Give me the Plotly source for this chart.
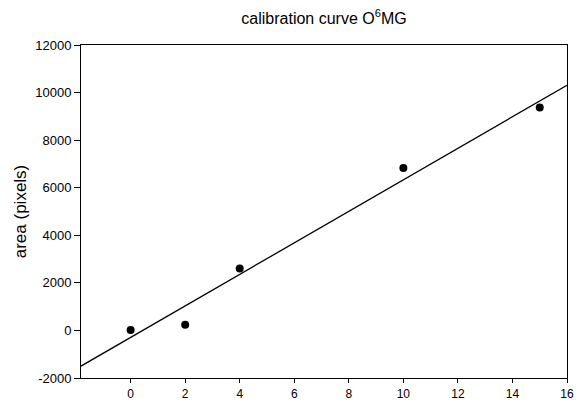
import plotly.graph_objects as go

conc = [0, 2, 4, 10, 15]
area = [20, 240, 2600, 6830, 9370]

fit_x = [-1.82, 16]
fit_y = [-1500, 10310]

x_ticks = [0, 2, 4, 6, 8, 10, 12, 14, 16]
y_ticks = [-2000, 0, 2000, 4000, 6000, 8000, 10000, 12000]

font_family = "Arial, Liberation Sans, sans-serif"

fig = go.Figure()
fig.add_trace(go.Scatter(x=fit_x, y=fit_y, mode="lines",
                         line=dict(color="black", width=1.3), showlegend=False))
fig.add_trace(go.Scatter(x=conc, y=area, mode="markers",
                         marker=dict(color="black", size=8), showlegend=False))

fig.update_layout(
    width=576, height=401,
    margin=dict(l=81, r=9, t=45, b=23),
    paper_bgcolor="white", plot_bgcolor="white",
    font=dict(family=font_family, color="black", size=13),
    title=dict(text="calibration curve O<sup>6</sup>MG", x=0.5, xref="paper",
               y=1 - 18 / 401, yref="container", yanchor="middle", xanchor="center",
               font=dict(size=16, family=font_family, color="black")),
    showlegend=False,
)
fig.update_xaxes(range=[fit_x[0], 16], tickvals=x_ticks, ticktext=[str(v) for v in x_ticks],
                 showgrid=False, zeroline=False, showline=True, linecolor="black", linewidth=1,
                 mirror=True, ticks="outside", ticklen=4, tickcolor="black",
                 ticklabelstandoff=1, automargin=False,
                 tickfont=dict(size=12))
fig.update_yaxes(range=[-2000, 12000], tickvals=y_ticks, ticktext=[str(v) for v in y_ticks],
                 showgrid=False, zeroline=False, showline=True, linecolor="black", linewidth=1,
                 mirror=True, ticks="outside", ticklen=6, tickcolor="black",
                 automargin=False, tickfont=dict(size=13),
                 title=dict(text="area (pixels)", font=dict(size=17), standoff=4))

fig.write_html("out.html", config={"displayModeBar": False},
               post_script="document.body.style.margin='0';document.body.style.padding='0';")
